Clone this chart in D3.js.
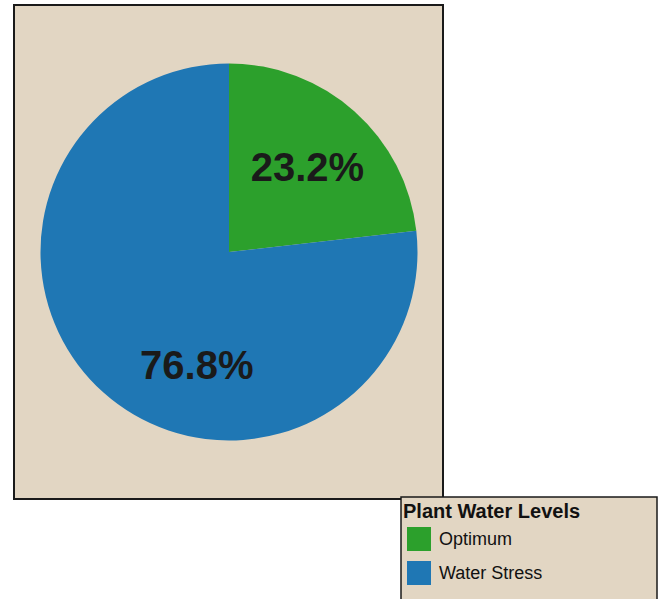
<!DOCTYPE html>
<html>
<head>
<meta charset="utf-8">
<script src="https://cdn.jsdelivr.net/npm/d3@7"></script>
<style>
  body { margin: 0; background: #fff; }
  svg { display: block; font-family: "Liberation Sans", Arial, sans-serif; }
</style>
</head>
<body>
<div id="plot"></div>
<script>
// data
const categories = ['Optimum', 'Water Stress'];
const values = [23.2, 76.8];
const colors = ['#2ca02c', '#1f77b4'];
const legendTitle = 'Plant Water Levels';

const W = 660, H = 599;

const svg = d3.select('#plot').append('svg')
  .attr('width', W)
  .attr('height', H);

// background panel
const panel = { x: 14, y: 5, w: 429, h: 494 };
svg.append('rect')
  .attr('x', panel.x)
  .attr('y', panel.y)
  .attr('width', panel.w)
  .attr('height', panel.h)
  .attr('fill', '#e2d6c3')
  .attr('stroke', '#1a1a1a')
  .attr('stroke-width', 2);

const cx = 229, cy = 252, radius = 188.5;

const pie = d3.pie().sort(null).value((d) => d);
const arcs = pie(values);

const arc = d3.arc().innerRadius(0).outerRadius(radius);

const chart = svg.append('g')
  .attr('transform', `translate(${cx}, ${cy})`);

chart.selectAll('path.slice')
  .data(arcs)
  .enter()
  .append('path')
  .attr('class', 'slice')
  .attr('d', arc)
  .attr('fill', (d, i) => colors[i]);

// label placement (angle in degrees clockwise from top, distance from centre)
const labelPlace = [{ a: 42.5, r: 116 }, { a: 196, r: 117 }];

chart.selectAll('text.pct')
  .data(arcs)
  .enter()
  .append('text')
  .attr('class', 'pct')
  .attr('x', (d, i) => labelPlace[i].r * Math.sin(labelPlace[i].a * Math.PI / 180))
  .attr('y', (d, i) => -labelPlace[i].r * Math.cos(labelPlace[i].a * Math.PI / 180))
  .attr('dy', '0.36em')
  .attr('text-anchor', 'middle')
  .attr('font-size', 40)
  .attr('font-weight', 'bold')
  .attr('fill', '#1a1a1a')
  .text((d) => `${d.data.toFixed(1)}%`);

// legend
const legend = svg.append('g')
  .attr('transform', 'translate(401, 497)');

legend.append('rect')
  .attr('x', 0)
  .attr('y', 0)
  .attr('width', 256)
  .attr('height', 130)
  .attr('fill', '#e2d6c3')
  .attr('stroke', '#1a1a1a')
  .attr('stroke-width', 1.5);

legend.append('text')
  .attr('x', 2)
  .attr('y', 21)
  .attr('font-size', 20)
  .attr('font-weight', 'bold')
  .attr('fill', '#111')
  .text(legendTitle);

const items = legend.selectAll('g.item')
  .data(categories)
  .enter()
  .append('g')
  .attr('class', 'item')
  .attr('transform', (d, i) => `translate(6, ${30 + i * 34})`);

items.append('rect')
  .attr('width', 24)
  .attr('height', 24)
  .attr('fill', (d, i) => colors[i]);

items.append('text')
  .attr('x', 32)
  .attr('y', 18)
  .attr('font-size', 18)
  .attr('fill', '#111')
  .text((d) => d);
</script>
</body>
</html>
